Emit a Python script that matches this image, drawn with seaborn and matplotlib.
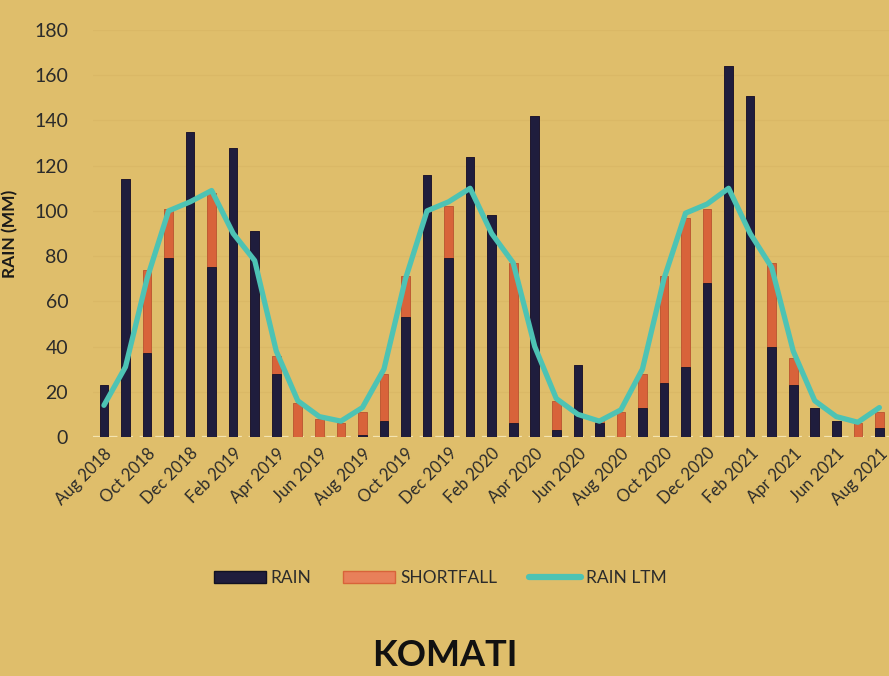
import matplotlib
matplotlib.use("Agg")
import matplotlib.pyplot as plt
import numpy as np
import pandas as pd
import seaborn as sns
from matplotlib.lines import Line2D
from matplotlib.patches import Patch

# 月份（Aug 2018 ~ Aug 2021）
months = [
    "Aug 2018", "Sep 2018", "Oct 2018", "Nov 2018", "Dec 2018", "Jan 2019",
    "Feb 2019", "Mar 2019", "Apr 2019", "May 2019", "Jun 2019", "Jul 2019",
    "Aug 2019", "Sep 2019", "Oct 2019", "Nov 2019", "Dec 2019", "Jan 2020",
    "Feb 2020", "Mar 2020", "Apr 2020", "May 2020", "Jun 2020", "Jul 2020",
    "Aug 2020", "Sep 2020", "Oct 2020", "Nov 2020", "Dec 2020", "Jan 2021",
    "Feb 2021", "Mar 2021", "Apr 2021", "May 2021", "Jun 2021", "Jul 2021",
    "Aug 2021",
]
rain = [23, 114, 37, 79, 135, 75, 128, 91, 28, 0, 0, 0, 1, 7, 53, 116, 79, 124,
        98, 6, 142, 3, 32, 6, 0, 13, 24, 31, 68, 164, 151, 40, 23, 13, 7, 0, 4]
shortfall = [0, 0, 37, 22, 0, 33, 0, 0, 8, 15, 8, 6, 10, 21, 18, 0, 23, 0,
             0, 71, 0, 13, 0, 1, 11, 15, 47, 66, 33, 0, 0, 37, 12, 0, 0, 6, 7]
rain_ltm = [14, 31, 70, 100, 104, 109, 90, 78, 38, 16, 9, 7, 13, 30, 70, 100, 104, 110,
            90, 77, 40, 17, 10, 7, 12, 30, 70, 99, 103, 110, 90, 75, 38, 16, 9, 6.5, 13]

BG = "#DFBE6B"
NAVY = "#1F1D3D"
ORANGE = "#D8633A"
TEAL = "#4DC3B4"

df = pd.DataFrame({"month": months, "rain": rain, "shortfall": shortfall, "ltm": rain_ltm})
df["total"] = df["rain"] + df["shortfall"]
df["pos"] = np.arange(len(df))

sns.set_theme(style="white")
plt.rcParams["font.family"] = ["Lato", "DejaVu Sans"]

fig = plt.figure(figsize=(8.89, 6.76), dpi=100, facecolor=BG)
ax = fig.add_axes([0.1048, 0.3536, 0.8965, 0.602])
ax.set_facecolor(BG)

# 堆疊：先畫總高（橘色 shortfall），再蓋上 rain
sns.barplot(data=df, x="month", y="total", color=ORANGE, width=0.4,
            saturation=1, edgecolor="#B9532F", linewidth=0.6, ax=ax, zorder=2)
sns.barplot(data=df, x="month", y="rain", color=NAVY, width=0.4,
            saturation=1, edgecolor="#15142B", linewidth=0.6, ax=ax, zorder=3)
sns.lineplot(data=df, x="pos", y="ltm", color=TEAL, linewidth=3.8,
             sort=False, ax=ax, zorder=4)

ax.set_xlim(-0.5, len(df) - 0.5)
ax.set_ylim(0, 180)
ax.set_yticks(range(0, 181, 20))
for v in range(20, 181, 20):
    ax.axhline(v, color="#DAB866", linewidth=0.8, zorder=0)
ax.axhline(0, color="#F3E3B0", linewidth=1.6, linestyle=(0, (4, 3)), zorder=1)

ax.set_xticks(df["pos"][::2])
ax.set_xticklabels(df["month"][::2], rotation=45, ha="right",
                   rotation_mode="anchor", fontsize=12, color="#2B2B2B")
ax.tick_params(axis="both", length=0, pad=6)
ax.tick_params(axis="y", labelsize=14, labelcolor="#2B2B2B", pad=18)
for s in ax.spines.values():
    s.set_visible(False)

ax.set_xlabel("")
ax.set_ylabel("RAIN (MM)", fontsize=12.5, fontweight="bold", color="#1A1A1A")
ax.yaxis.set_label_coords(-0.094, 0.5)

handles = [
    Patch(facecolor=NAVY, edgecolor="#111122"),
    Patch(facecolor="#E8805A", edgecolor=ORANGE),
    Line2D([0], [0], color=TEAL, linewidth=4.5),
]
fig.legend(handles, ["RAIN", "SHORTFALL", "RAIN LTM"], loc="center",
           bbox_to_anchor=(0.495, 0.145), ncol=3, frameon=False, fontsize=12.5,
           handlelength=3.0, handleheight=0.75, columnspacing=1.8, handletextpad=0.3,
           labelcolor="#2B2B2B")

fig.text(0.5, 0.031, "KOMATI", ha="center", va="center", fontsize=26,
         fontweight="bold", color="#111111")

fig.savefig("out.png", dpi=100, facecolor=BG)
